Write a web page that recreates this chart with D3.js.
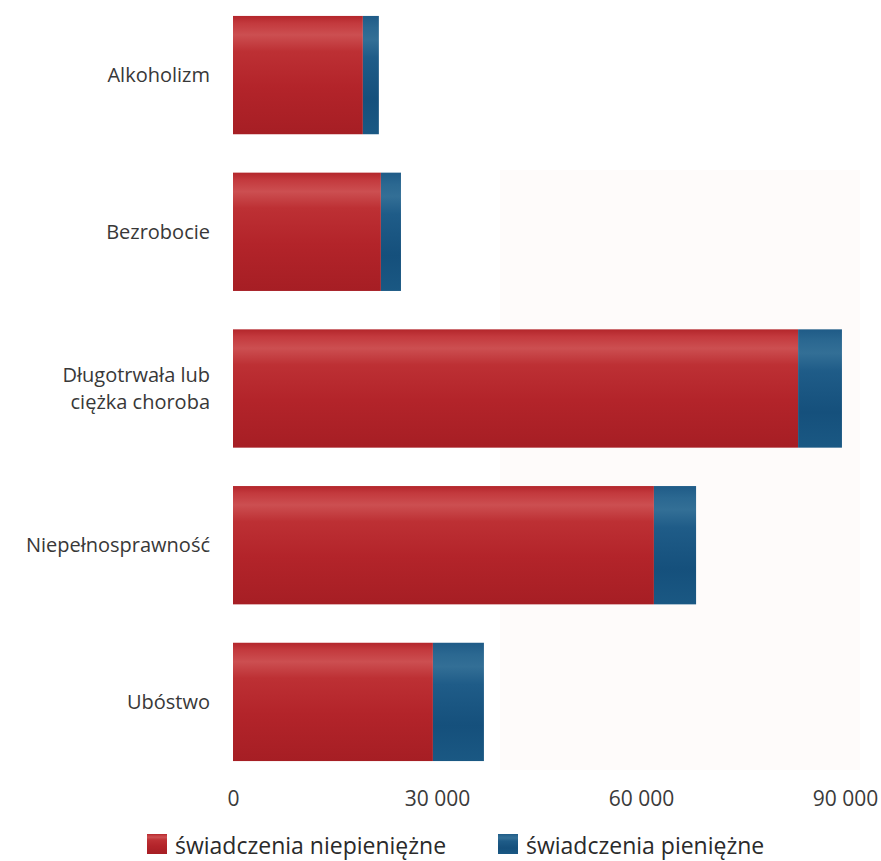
<!DOCTYPE html>
<html>
<head>
<meta charset="utf-8">
<script src="https://cdn.jsdelivr.net/npm/d3@7"></script>
<style>
  html, body { margin: 0; padding: 0; background: #ffffff; }
  svg { display: block; }
  text { font-family: "Open Sans", "DejaVu Sans", sans-serif; }
</style>
</head>
<body>
<script>
const categories = ["Alkoholizm", "Bezrobocie", "Długotrwała lub\nciężka choroba", "Niepełnosprawność", "Ubóstwo"];
const nonCash = [19100, 21750, 83100, 61900, 29400];
const cash = [2350, 2950, 6450, 6200, 7500];
const seriesNames = ["świadczenia niepieniężne", "świadczenia pieniężne"];
const tickValues = [0, 30000, 60000, 90000];
const tickLabels = ["0", "30 000", "60 000", "90 000"];

const W = 881, H = 861;
const svg = d3.select("body").append("svg").attr("width", W).attr("height", H);

const defs = svg.append("defs");
function grad(id, stops) {
  const g = defs.append("linearGradient").attr("id", id)
    .attr("x1", 0).attr("y1", 0).attr("x2", 0).attr("y2", 1);
  stops.forEach(s => g.append("stop").attr("offset", s[0]).attr("stop-color", s[1]));
}
grad("gRed", [[0, "#b3262b"], [0.06, "#c3393d"], [0.16, "#cc4f51"], [0.3, "#bd3034"], [0.6, "#b3242a"], [1, "#a61e24"]]);
grad("gBlue", [[0, "#1f5b87"], [0.1, "#2b6891"], [0.2, "#336f96"], [0.35, "#1f5c88"], [0.7, "#15507c"], [1, "#1a5883"]]);

// faint paper tint
svg.append("rect").attr("x", 500).attr("y", 170).attr("width", 360).attr("height", 600)
  .attr("fill", "#fefbfa");

const x = d3.scaleLinear().domain([0, 90000]).range([233, 845]);
const y = d3.scaleBand().domain(categories).range([-6, 783]).paddingInner(0.245).paddingOuter(0.14);

const data = categories.map((c, i) => ({ c, a: nonCash[i], b: cash[i] }));

const g = svg.append("g");
g.selectAll("rect.red").data(data).join("rect").attr("class", "red")
  .attr("x", x(0)).attr("y", d => y(d.c))
  .attr("width", d => x(d.a) - x(0)).attr("height", y.bandwidth())
  .attr("fill", "url(#gRed)");
g.selectAll("rect.blue").data(data).join("rect").attr("class", "blue")
  .attr("x", d => x(d.a)).attr("y", d => y(d.c))
  .attr("width", d => x(d.a + d.b) - x(d.a)).attr("height", y.bandwidth())
  .attr("fill", "url(#gBlue)");

// category labels
const lab = svg.append("g");
data.forEach(d => {
  const lines = d.c.split("\n");
  const cy = y(d.c) + y.bandwidth() / 2;
  const lh = 27;
  lines.forEach((l, i) => {
    lab.append("text").attr("text-anchor", "end")
      .attr("font-size", 20).attr("fill", "#383838")
      .attr("x", 210)
      .attr("y", cy + (i - (lines.length - 1) / 2) * lh + 7).text(l);
  });
});

// x axis
const axis = d3.axisBottom(x).tickValues(tickValues)
  .tickFormat((v, i) => tickLabels[i]).tickSize(0).tickPadding(0);
const ag = svg.append("g").attr("transform", "translate(0,787)").call(axis);
ag.select(".domain").remove();
ag.selectAll("text").attr("font-size", 21).attr("fill", "#3a3a3a")
  .attr("dy", "0.9em").style("font-family", "'Open Sans', sans-serif");

// legend
const leg = svg.append("g");
const legItems = [
  { name: seriesNames[0], fill: "url(#gRed)", x: 147 },
  { name: seriesNames[1], fill: "url(#gBlue)", x: 498 }
];
legItems.forEach(it => {
  leg.append("rect").attr("x", it.x).attr("y", 834).attr("width", 20).attr("height", 20).attr("fill", it.fill);
  leg.append("text").attr("x", it.x + 28).attr("y", 854).attr("font-size", 23)
    .attr("fill", "#2a2a2a").text(it.name);
});
</script>
</body>
</html>
